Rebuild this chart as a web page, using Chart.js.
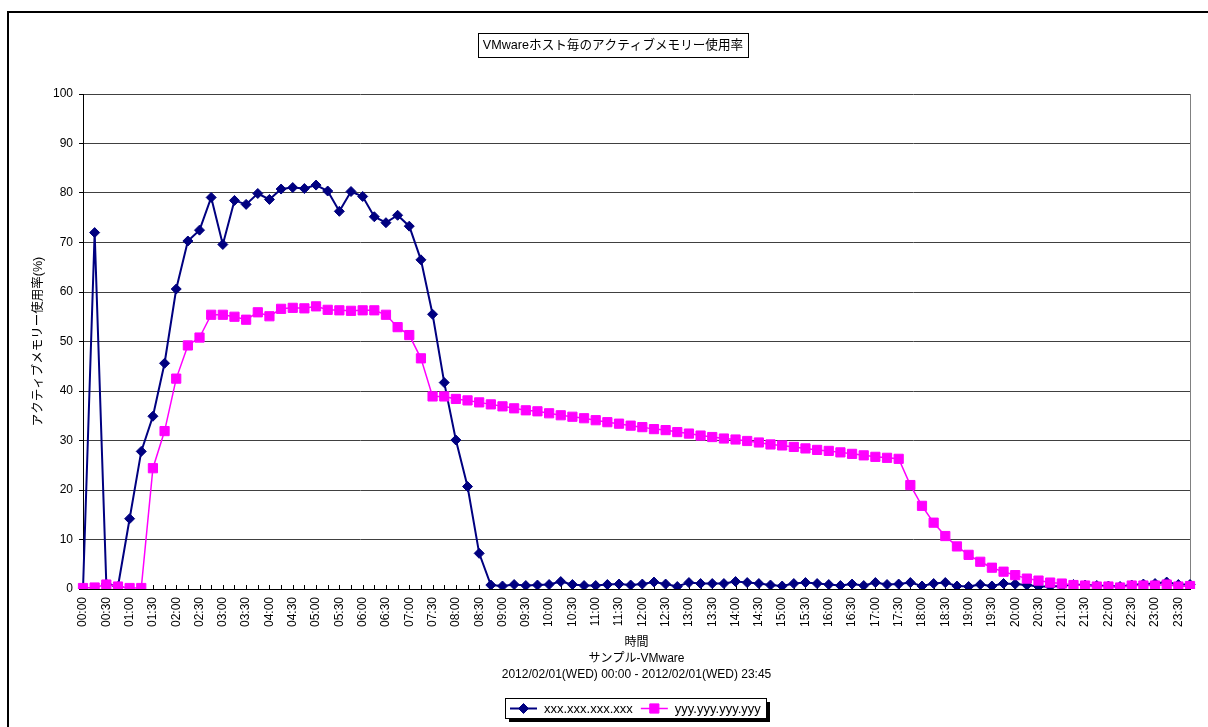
<!DOCTYPE html>
<html>
<head>
<meta charset="utf-8">
<script src="https://cdn.jsdelivr.net/npm/chart.js@4.4.1/dist/chart.umd.min.js"></script>
<style>
html, body { margin: 0; padding: 0; background: #fff; }
#wrap { width: 1208px; height: 727px; }
</style>
</head>
<body>
<div id="wrap"><canvas id="memChart" width="1208" height="727"></canvas></div>
<script>
const times = [
  "00:00","00:15","00:30","00:45","01:00","01:15","01:30","01:45",
  "02:00","02:15","02:30","02:45","03:00","03:15","03:30","03:45",
  "04:00","04:15","04:30","04:45","05:00","05:15","05:30","05:45",
  "06:00","06:15","06:30","06:45","07:00","07:15","07:30","07:45",
  "08:00","08:15","08:30","08:45","09:00","09:15","09:30","09:45",
  "10:00","10:15","10:30","10:45","11:00","11:15","11:30","11:45",
  "12:00","12:15","12:30","12:45","13:00","13:15","13:30","13:45",
  "14:00","14:15","14:30","14:45","15:00","15:15","15:30","15:45",
  "16:00","16:15","16:30","16:45","17:00","17:15","17:30","17:45",
  "18:00","18:15","18:30","18:45","19:00","19:15","19:30","19:45",
  "20:00","20:15","20:30","20:45","21:00","21:15","21:30","21:45",
  "22:00","22:15","22:30","22:45","23:00","23:15","23:30","23:45"
];

const hostX = [
  0, 72.0, 1.0, 0.5, 14.2, 27.8, 34.9, 45.6,
  60.6, 70.3, 72.5, 79.1, 69.6, 78.5, 77.7, 79.9,
  78.7, 80.8, 81.1, 80.9, 81.6, 80.4, 76.3, 80.3,
  79.3, 75.2, 74.0, 75.5, 73.3, 66.5, 55.5, 41.7,
  30.1, 20.7, 7.2, 0.8, 0.6, 0.9, 0.7, 0.8,
  0.9, 1.5, 0.9, 0.7, 0.7, 0.9, 1.0, 0.8,
  1.0, 1.4, 1.0, 0.5, 1.3, 1.1, 1.1, 1.1,
  1.5, 1.3, 1.1, 0.8, 0.6, 1.1, 1.3, 1.1,
  0.9, 0.7, 1.0, 0.7, 1.3, 0.9, 1.0, 1.3,
  0.6, 1.1, 1.3, 0.6, 0.5, 0.9, 0.6, 1.1,
  1.0, 0.8, 0.5, 0.5, 0.6, 0.9, 0.8, 0.7,
  0.6, 0.5, 0.8, 1.0, 1.1, 1.4, 0.9, 0.9
];

const hostY = [
  0.2, 0.3, 0.9, 0.5, 0.2, 0.2, 24.4, 31.9,
  42.5, 49.2, 50.8, 55.4, 55.4, 55.0, 54.4, 55.9,
  55.1, 56.6, 56.8, 56.7, 57.1, 56.4, 56.3, 56.2,
  56.3, 56.3, 55.4, 52.9, 51.3, 46.6, 38.9, 38.9,
  38.4, 38.1, 37.7, 37.3, 36.9, 36.5, 36.1, 35.9,
  35.5, 35.1, 34.8, 34.5, 34.1, 33.7, 33.4, 33.0,
  32.7, 32.3, 32.1, 31.7, 31.4, 31.0, 30.7, 30.4,
  30.2, 29.9, 29.6, 29.2, 29.0, 28.7, 28.4, 28.1,
  27.9, 27.6, 27.3, 27.0, 26.7, 26.5, 26.3, 21.0,
  16.8, 13.4, 10.7, 8.6, 6.9, 5.5, 4.3, 3.5,
  2.8, 2.1, 1.7, 1.3, 1.1, 0.8, 0.7, 0.5,
  0.5, 0.3, 0.7, 0.7, 0.7, 0.9, 0.5, 0.6
];

const hostNames = ["xxx.xxx.xxx.xxx", "yyy.yyy.yyy.yyy"];
const chartTitle = "VMwareホスト毎のアクティブメモリー使用率";
const yTitle = "アクティブメモリー使用率(%)";
const xTitle = ["時間", "サンプル-VMware", "2012/02/01(WED) 00:00 - 2012/02/01(WED) 23:45"];

const FONT = '"Liberation Sans", "Noto Sans CJK JP", sans-serif';

// frame, boxed title, category tick marks, right border and legend
const excelBits = {
  id: "excelBits",
  beforeDraw(chart) {
    const ctx = chart.ctx;
    ctx.save();
    ctx.fillStyle = "#fff";
    ctx.fillRect(0, 0, chart.width, chart.height);
    ctx.strokeStyle = "#000";
    ctx.lineWidth = 2;
    ctx.strokeRect(8, 12, 1300, 800);
    ctx.restore();
  },
  beforeDatasetsDraw(chart) {
    const ctx = chart.ctx;
    const area = chart.chartArea;
    const xs = chart.scales.x;
    ctx.save();
    ctx.strokeStyle = "#000";
    ctx.lineWidth = 1;
    ctx.beginPath();
    for (let i = 0; i < times.length; i++) {
      const px = Math.round(xs.getPixelForValue(i)) + 0.5;
      ctx.moveTo(px, area.bottom);
      ctx.lineTo(px, area.bottom - 4);
    }
    ctx.stroke();
    ctx.strokeStyle = "#808080";
    ctx.beginPath();
    ctx.moveTo(Math.round(area.right) + 0.5, area.top);
    ctx.lineTo(Math.round(area.right) + 0.5, area.bottom);
    ctx.stroke();
    ctx.restore();
  },
  afterDraw(chart) {
    const ctx = chart.ctx;
    ctx.save();
    // title box
    ctx.font = "12.6px " + FONT;
    ctx.textBaseline = "middle";
    ctx.textAlign = "center";
    ctx.fillStyle = "#000";
    const tw = ctx.measureText(chartTitle).width;
    const cx = 613;
    ctx.fillText(chartTitle, cx, 46);
    ctx.strokeStyle = "#000";
    ctx.lineWidth = 1;
    ctx.strokeRect(Math.round(cx - tw / 2 - 5) + 0.5, 33.5, Math.round(tw + 10), 24);

    // legend box
    ctx.font = "13px " + FONT;
    ctx.textAlign = "left";
    const segW = 27, gap = 7, itemGap = 8, padL = 5, padR = 5;
    const widths = hostNames.map(n => ctx.measureText(n).width);
    let total = padL + padR;
    widths.forEach((w, i) => { total += segW + gap + w + (i ? itemGap : 0); });
    total = Math.round(total);
    const lx = Math.round(635 - total / 2), ly = 698, lh = 20;
    ctx.fillStyle = "#000";
    ctx.fillRect(lx + 4, ly + 4, total, lh);
    ctx.fillStyle = "#fff";
    ctx.fillRect(lx, ly, total, lh);
    ctx.strokeStyle = "#000";
    ctx.lineWidth = 1;
    ctx.strokeRect(lx + 0.5, ly + 0.5, total, lh);
    let x = lx + padL;
    chart.data.datasets.forEach((ds, i) => {
      const my = ly + lh / 2 + 0.5;
      ctx.strokeStyle = ds.borderColor;
      ctx.fillStyle = ds.backgroundColor;
      ctx.lineWidth = ds.borderWidth;
      ctx.beginPath();
      ctx.moveTo(x, my);
      ctx.lineTo(x + segW, my);
      ctx.stroke();
      ctx.lineWidth = 1;
      Chart.helpers.drawPoint(ctx, {
        pointStyle: ds.pointStyle,
        radius: ds.pointRadius,
        borderWidth: 1
      }, x + segW / 2, my);
      ctx.fillStyle = "#000";
      ctx.fillText(hostNames[i], x + segW + gap, my + 1);
      x += segW + gap + widths[i] + itemGap;
    });
    ctx.restore();
  }
};

new Chart(document.getElementById("memChart"), {
  type: "line",
  data: {
    labels: times,
    datasets: [
      {
        label: hostNames[0],
        data: hostX,
        borderColor: "#000080",
        backgroundColor: "#000080",
        borderWidth: 2,
        pointStyle: "rectRot",
        pointRadius: 5,
        pointBorderWidth: 1,
        tension: 0,
        order: 2
      },
      {
        label: hostNames[1],
        data: hostY,
        borderColor: "#ff00ff",
        backgroundColor: "#ff00ff",
        borderWidth: 1.5,
        pointStyle: "rect",
        pointRadius: 6.5,
        pointBorderWidth: 1,
        tension: 0,
        order: 1
      }
    ]
  },
  options: {
    responsive: false,
    animation: false,
    layout: { padding: { left: 10, top: 94, right: 18, bottom: 44 } },
    plugins: {
      legend: { display: false },
      title: { display: false },
      tooltip: { enabled: false }
    },
    scales: {
      x: {
        type: "category",
        afterFit(scale) {
          scale.height = 94;
          scale.paddingLeft = 0;
          scale.paddingRight = 0;
        },
        grid: { drawOnChartArea: false, drawTicks: false },
        border: { color: "#000", width: 1 },
        ticks: {
          autoSkip: false,
          maxRotation: 90,
          minRotation: 90,
          padding: 8,
          color: "#000",
          font: { size: 12, family: FONT },
          callback(v, i) { return i % 2 === 0 ? times[i] : ""; }
        },
        title: {
          display: true,
          text: xTitle,
          color: "#000",
          font: { size: 12, family: FONT, lineHeight: 1.33 },
          padding: { top: 0, bottom: 0 }
        }
      },
      y: {
        min: 0,
        max: 100,
        afterFit(scale) { scale.width = 73; },
        grid: { color: "#404040", lineWidth: 1, tickLength: 4, tickColor: "#000" },
        border: { color: "#000", width: 1 },
        ticks: {
          stepSize: 10,
          padding: 6,
          color: "#000",
          font: { size: 12, family: FONT }
        },
        title: {
          display: true,
          text: yTitle,
          color: "#000",
          font: { size: 12.5, family: FONT },
          padding: { top: 21, bottom: 0 }
        }
      }
    }
  },
  plugins: [excelBits]
});
</script>
</body>
</html>
